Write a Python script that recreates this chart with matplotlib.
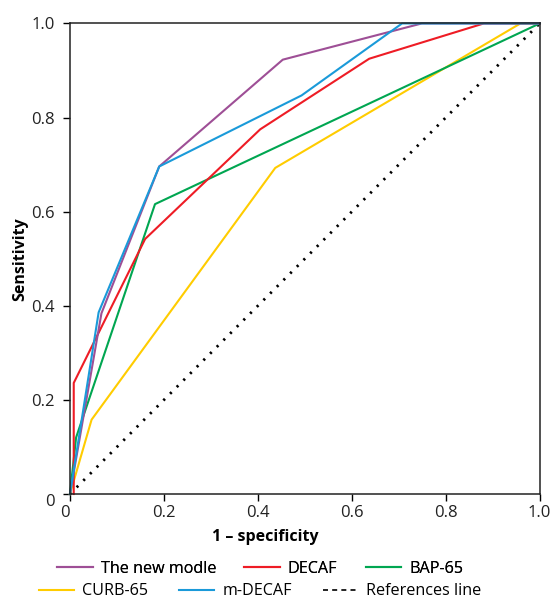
import matplotlib.pyplot as plt
from matplotlib.lines import Line2D

# ======================================
# ROC curve data
# ======================================

new_fpr = [0.0, 0.067, 0.19, 0.453, 0.749, 1.0]
new_tpr = [0.0, 0.384, 0.696, 0.923, 1.0, 1.0]

decaf_fpr = [0.008, 0.008, 0.16, 0.405, 0.637, 0.881, 1.0]
decaf_tpr = [0.0, 0.236, 0.542, 0.775, 0.925, 1.0, 1.0]

bap_fpr = [0.0, 0.013, 0.181, 1.0]
bap_tpr = [0.0, 0.12, 0.616, 1.0]

curb_fpr = [0.0, 0.046, 0.437, 0.959, 1.0]
curb_tpr = [0.0, 0.158, 0.693, 1.0, 1.0]

mdecaf_fpr = [0.0, 0.061, 0.19, 0.493, 0.707, 1.0]
mdecaf_tpr = [0.0, 0.386, 0.696, 0.847, 1.0, 1.0]

ref_x = [0.0, 1.0]
ref_y = [0.0, 1.0]

ticks = [0, 0.2, 0.4, 0.6, 0.8, 1.0]
tick_labels = ['0', '0.2', '0.4', '0.6', '0.8', '1.0']

# ======================================
# Plot
# ======================================

plt.rcParams['font.family'] = ['Open Sans', 'DejaVu Sans']

fig = plt.figure(figsize=(5.51, 6.01), dpi=100)
ax = fig.add_axes([0.127, 0.178, 0.8525, 0.783])

lw = 1.5
ax.plot(ref_x, ref_y, color='black', lw=2, linestyle=(0, (0.8, 2.6)), clip_on=False)
ax.plot(curb_fpr, curb_tpr, color='#ffcc00', lw=lw, clip_on=False)
ax.plot(bap_fpr, bap_tpr, color='#00a651', lw=lw, clip_on=False)
ax.plot(decaf_fpr, decaf_tpr, color='#ee1c25', lw=lw, clip_on=False)
ax.plot(new_fpr, new_tpr, color='#9e4f96', lw=lw, clip_on=False)
ax.plot(mdecaf_fpr, mdecaf_tpr, color='#1a9ad9', lw=lw, clip_on=False)

ax.set_xlim(0, 1)
ax.set_ylim(0, 1)
ax.set_xticks(ticks)
ax.set_yticks(ticks)
ax.set_xticklabels(tick_labels, fontsize=12, color='#222222')
ax.set_yticklabels(tick_labels, fontsize=12, color='#222222')
ax.get_xticklabels()[0].set_ha('right')
ax.get_yticklabels()[0].set_va('top')
ax.tick_params(direction='out', length=5, width=1)
ax.tick_params(axis='x', pad=3)
ax.tick_params(axis='y', pad=6)

for side in ['left', 'bottom', 'top', 'right']:
    ax.spines[side].set_linewidth(1.1)
    ax.spines[side].set_color('#222222')

ax.set_xlabel('1 – specificity', fontsize=11.5, fontweight='bold')
ax.xaxis.set_label_coords(0.415, -0.075)
ax.set_ylabel('Sensitivity', fontsize=11.5, fontweight='bold')
ax.yaxis.set_label_coords(-0.089, 0.5)

# Legend in two centred rows
row1 = [
    Line2D([], [], color='#9e4f96', lw=lw),
    Line2D([], [], color='#ee1c25', lw=lw),
    Line2D([], [], color='#00a651', lw=lw),
]
row2 = [
    Line2D([], [], color='#ffcc00', lw=lw),
    Line2D([], [], color='#1a9ad9', lw=lw),
    Line2D([], [], color='black', lw=1.2, linestyle=(0, (3, 2.5))),
]

leg1 = fig.legend(row1, ['The new modle', 'DECAF', 'BAP-65'],
                  loc='center', bbox_to_anchor=(0.472, 0.054), ncol=3,
                  frameon=False, fontsize=11.6, handlelength=2.2,
                  columnspacing=1.75, handletextpad=0.5)
fig.add_artist(leg1)
fig.legend(row2, ['CURB-65', 'm-DECAF', 'References line'],
           loc='center', bbox_to_anchor=(0.472, 0.016), ncol=3,
           frameon=False, fontsize=11.6, handlelength=2.2,
           columnspacing=1.9, handletextpad=0.5)

plt.savefig('out.png', dpi=100)
